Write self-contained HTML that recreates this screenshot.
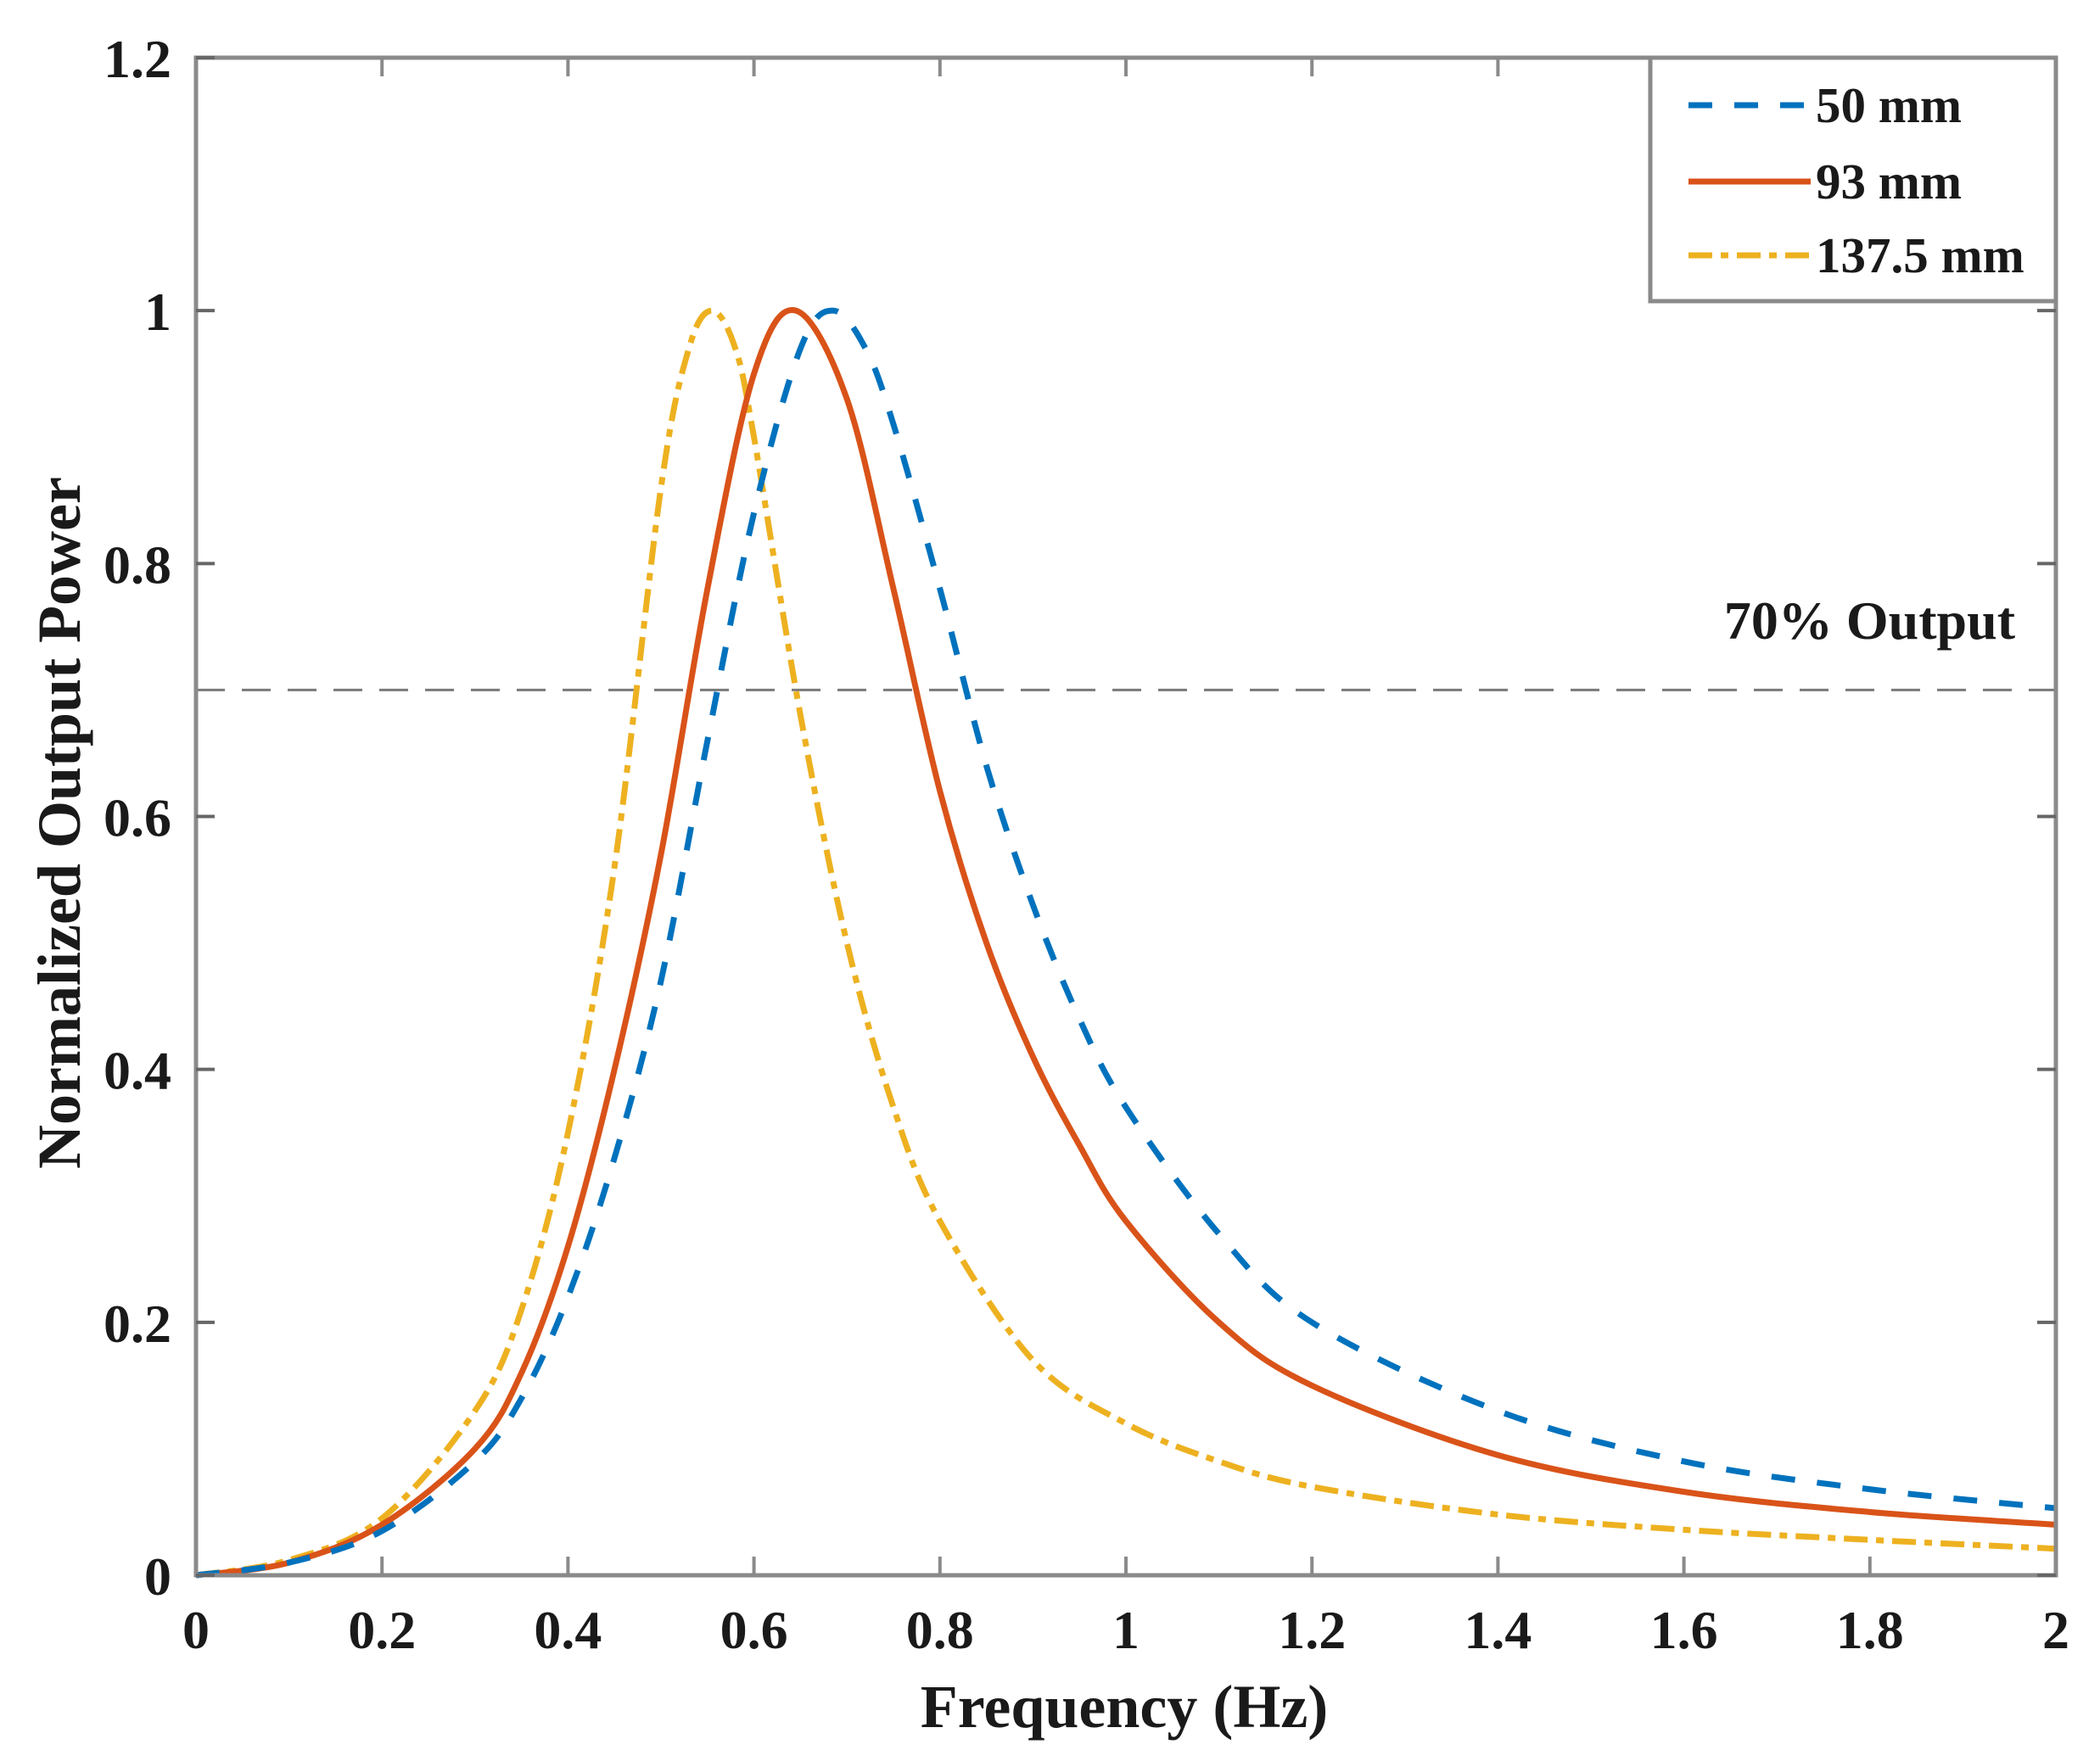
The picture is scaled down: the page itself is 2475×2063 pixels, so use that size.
<!DOCTYPE html>
<html><head><meta charset="utf-8"><style>
html,body{margin:0;padding:0;background:#fff;}
svg{display:block;}
text{font-family:"Liberation Serif",serif;font-weight:bold;fill:#1a1a1a;}
</style></head><body>
<svg id="chart" width="2475" height="2063" viewBox="0 0 2475 2063" xmlns="http://www.w3.org/2000/svg">
<rect width="2475" height="2063" fill="#fff"/>
<g id="grid"></g>
<g id="series"></g>
<g id="axes"></g>
</svg>
<script>
const xTicks=[0,0.2,0.4,0.6,0.8,1,1.2,1.4,1.6,1.8,2];
const xTickLabels=["0","0.2","0.4","0.6","0.8","1","1.2","1.4","1.6","1.8","2"];
const yTicks=[0,0.2,0.4,0.6,0.8,1,1.2];
const yTickLabels=["0","0.2","0.4","0.6","0.8","1","1.2"];
const threshold=0.7;
const freq50=[0,0.1,0.2,0.3,0.35,0.4,0.45,0.5,0.55,0.6,0.65,0.685,0.72,0.75,0.8,0.85,0.9,0.95,1.0,1.1,1.2,1.4,1.6,1.8,2.0];
const power50=[0,0.01,0.035,0.09,0.14,0.22,0.33,0.47,0.66,0.84,0.97,1.0,0.97,0.91,0.78,0.64,0.53,0.44,0.37,0.27,0.2,0.13,0.09,0.068,0.053];
const freq93=[0,0.1,0.2,0.3,0.35,0.4,0.45,0.5,0.55,0.6,0.645,0.7,0.75,0.8,0.85,0.9,0.95,1.0,1.1,1.2,1.4,1.6,1.8,2.0];
const power93=[0,0.01,0.04,0.1,0.16,0.26,0.4,0.57,0.78,0.95,1.0,0.93,0.78,0.62,0.5,0.41,0.34,0.28,0.2,0.15,0.095,0.066,0.05,0.04];
const freq137=[0,0.1,0.2,0.3,0.35,0.4,0.45,0.5,0.53,0.555,0.58,0.6,0.65,0.7,0.75,0.8,0.9,1.0,1.1,1.2,1.4,1.6,1.8,2.0];
const power137=[0,0.012,0.045,0.13,0.21,0.35,0.56,0.86,0.97,1.0,0.97,0.9,0.68,0.5,0.37,0.28,0.17,0.12,0.09,0.07,0.048,0.036,0.028,0.021];

const L=231,R=2423,T=68,B=1857;
const X=v=>L+(v-0)/(2-0)*(R-L);
const Y=v=>B-(v-0)/(1.2-0)*(B-T);
const NS="http://www.w3.org/2000/svg";
function mk(tag,attrs,parent){const e=document.createElementNS(NS,tag);for(const k in attrs)e.setAttribute(k,attrs[k]);parent.appendChild(e);return e;}
const grid=document.getElementById('grid'),series=document.getElementById('series'),axes=document.getElementById('axes');

const th=mk('line',{x1:L,x2:R,y1:Y(threshold),y2:Y(threshold),stroke:'#7a7a7a','stroke-width':3,'stroke-dasharray':'34 20'},grid);


const tt=mk('text',{x:2375,y:753,'font-size':64,'text-anchor':'end'},grid);
tt.textContent='70% Output';



function pathFrom(xs,ys){
  const p=xs.map((x,i)=>[X(x),Y(ys[i])]);
  let d=`M${p[0][0]},${p[0][1]}`;
  for(let i=0;i<p.length-1;i++){
    const p0=p[i-1]||p[i],p1=p[i],p2=p[i+1],p3=p[i+2]||p2;
    const c1=[p1[0]+(p2[0]-p0[0])/6,p1[1]+(p2[1]-p0[1])/6];
    const c2=[p2[0]-(p3[0]-p1[0])/6,p2[1]-(p3[1]-p1[1])/6];
    d+=` C${c1[0]},${c1[1]} ${c2[0]},${c2[1]} ${p2[0]},${p2[1]}`;
  }
  return d;
}
const s1=mk('path',{d:pathFrom(freq137,power137),fill:'none',stroke:'#EDB120','stroke-width':7,'stroke-dasharray':'28 10 9 10'},series);


const s2=mk('path',{d:pathFrom(freq93,power93),fill:'none',stroke:'#D95319','stroke-width':7},series);


const s3=mk('path',{d:pathFrom(freq50,power50),fill:'none',stroke:'#0072BD','stroke-width':7,'stroke-dasharray':'28 26'},series);



const frame=mk('rect',{x:L,y:T,width:R-L,height:B-T,fill:'none',stroke:'#8a8a8a','stroke-width':5},axes);


xTicks.forEach((v,i)=>{
  mk('line',{x1:X(v),x2:X(v),y1:B,y2:B-22,stroke:'#8a8a8a','stroke-width':4},axes);
  mk('line',{x1:X(v),x2:X(v),y1:T,y2:T+22,stroke:'#8a8a8a','stroke-width':4},axes);
  const t=mk('text',{x:X(v),y:1943,'font-size':64,'text-anchor':'middle'},axes);
  t.textContent=xTickLabels[i];
  
  
});
yTicks.forEach((v,i)=>{
  mk('line',{x1:L,x2:L+22,y1:Y(v),y2:Y(v),stroke:'#666','stroke-width':4},axes);
  mk('line',{x1:R,x2:R-22,y1:Y(v),y2:Y(v),stroke:'#666','stroke-width':4},axes);
  const t=mk('text',{x:202,y:Y(v)+23,'font-size':64,'text-anchor':'end'},axes);
  t.textContent=yTickLabels[i];
  
  
});
const xt=mk('text',{x:1325,y:2036,'font-size':72,'text-anchor':'middle'},axes);
xt.textContent='Frequency (Hz)';


const yt=mk('text',{x:0,y:0,'font-size':72,'text-anchor':'middle',transform:'translate(94,970) rotate(-90)'},axes);
yt.textContent='Normalized Output Power';



const lg=mk('g',{},axes);


mk('rect',{x:1945,y:68,width:R-1945,height:287,fill:'#fff',stroke:'#8a8a8a','stroke-width':5},lg);
const leg=[['50 mm','#0072BD','28 26',124],['93 mm','#D95319','none',214],['137.5 mm','#EDB120','28 10 9 10',301]];
leg.forEach(e=>{
  const ln=mk('line',{x1:1990,x2:2134,y1:e[3],y2:e[3],stroke:e[1],'stroke-width':7,'stroke-dasharray':e[2]},lg);
  
  
  const t=mk('text',{x:2140,y:e[3]+20,'font-size':59},lg);
  t.textContent=e[0];
  
  
});
</script>
</body></html>
